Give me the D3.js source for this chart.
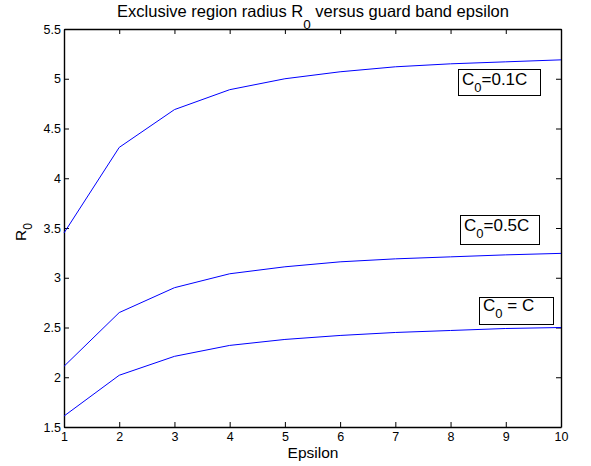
<!DOCTYPE html>
<html lang="en">
<head>
  <meta charset="UTF-8">
  <title>Exclusive region radius R0 versus guard band epsilon</title>
  <script src="https://d3js.org/d3.v7.min.js"></script>
  <style>
    body { margin: 0; background: #fff; }
    svg { display: block; font-family: "Liberation Sans", Arial, sans-serif; }
  </style>
</head>
<body>
  <svg id="chart" width="591" height="466"></svg>

  <script>
    // data
    const epsilon = [1, 2, 3, 4, 5, 6, 7, 8, 9, 10];
    const r0_01C = [3.45, 4.31, 4.69, 4.89, 5.00, 5.07, 5.12, 5.15, 5.17, 5.19];
    const r0_05C = [2.11, 2.65, 2.90, 3.04, 3.11, 3.16, 3.19, 3.21, 3.23, 3.245];
    const r0_C   = [1.61, 2.02, 2.21, 2.32, 2.38, 2.42, 2.45, 2.47, 2.49, 2.50];
    const xTicks = [1, 2, 3, 4, 5, 6, 7, 8, 9, 10];
    const yTicks = [1.5, 2, 2.5, 3, 3.5, 4, 4.5, 5, 5.5];

    const mLeft = 64, mRight = 561, mTop = 29, mBottom = 427;
    const svg = d3.select("#chart");

    const x = d3.scaleLinear().domain([1, 10]).range([mLeft, mRight]);
    const y = d3.scaleLinear().domain([1.5, 5.5]).range([mBottom, mTop]);

    // axes: ticks pointing inward, mirrored on top/right like matlab
    const tl = 5;
    svg.append("g").attr("transform", `translate(0,${mBottom})`)
      .call(d3.axisBottom(x).tickValues(xTicks).tickSizeInner(-tl).tickSizeOuter(0).tickPadding(5).tickFormat(d3.format("d")));
    svg.append("g").attr("transform", `translate(0,${mTop})`)
      .call(d3.axisTop(x).tickValues(xTicks).tickSizeInner(-tl).tickSizeOuter(0).tickFormat(""));
    svg.append("g").attr("transform", `translate(${mLeft},0)`)
      .call(d3.axisLeft(y).tickValues(yTicks).tickSizeInner(-tl).tickSizeOuter(0).tickPadding(3).tickFormat(d => d));
    svg.append("g").attr("transform", `translate(${mRight},0)`)
      .call(d3.axisRight(y).tickValues(yTicks).tickSizeInner(-tl).tickSizeOuter(0).tickFormat(""));

    svg.selectAll(".domain").attr("stroke", "#000").attr("stroke-width", 1.4);
    svg.selectAll(".tick line").attr("stroke", "#000");
    svg.selectAll(".tick text").attr("font-size", 12.5).attr("fill", "#000")
      .attr("font-family", "'Liberation Sans', Arial, sans-serif");

    // curves
    const line = d3.line().x((d, i) => x(epsilon[i])).y(d => y(d));
    [r0_01C, r0_05C, r0_C].forEach(s => {
      svg.append("path").datum(s).attr("d", line)
        .attr("fill", "none").attr("stroke", "#0000ff").attr("stroke-width", 1);
    });

    // title
    const title = svg.append("text").attr("x", 313).attr("y", 17)
      .attr("text-anchor", "middle").attr("font-size", 16.5);
    title.append("tspan").text("Exclusive region radius R");
    title.append("tspan").attr("font-size", 13.5).attr("dy", 12).text("0");
    title.append("tspan").attr("dy", -12).text(" versus guard band epsilon");

    // axis labels
    svg.append("text").attr("x", 313).attr("y", 458)
      .attr("text-anchor", "middle").attr("font-size", 15.5).text("Epsilon");
    const yl = svg.append("text").attr("transform", "translate(26,232) rotate(-90)")
      .attr("text-anchor", "middle").attr("font-size", 15.5);
    yl.append("tspan").text("R");
    yl.append("tspan").attr("font-size", 12).attr("dy", 6).text("0");

    // boxed annotations
    const notes = [
      { pre: "C", sub: "0", post: "=0.1C", x: 458, y: 69, w: 82, h: 26, by: 16 },
      { pre: "C", sub: "0", post: "=0.5C", x: 460, y: 215, w: 79, h: 29, by: 16 },
      { pre: "C", sub: "0", post: " = C", x: 479, y: 297, w: 74, h: 27, by: 14 }
    ];
    notes.forEach(n => {
      svg.append("rect").attr("x", n.x + 0.5).attr("y", n.y + 0.5).attr("width", n.w).attr("height", n.h)
        .attr("fill", "#fff").attr("stroke", "#000").attr("stroke-width", 1);
      const t = svg.append("text").attr("x", n.x + 4).attr("y", n.y + n.by).attr("font-size", 17);
      t.append("tspan").text(n.pre);
      t.append("tspan").attr("font-size", 13).attr("dy", 7).text(n.sub);
      t.append("tspan").attr("dy", -7).text(n.post);
    });
  </script>
</body>
</html>
